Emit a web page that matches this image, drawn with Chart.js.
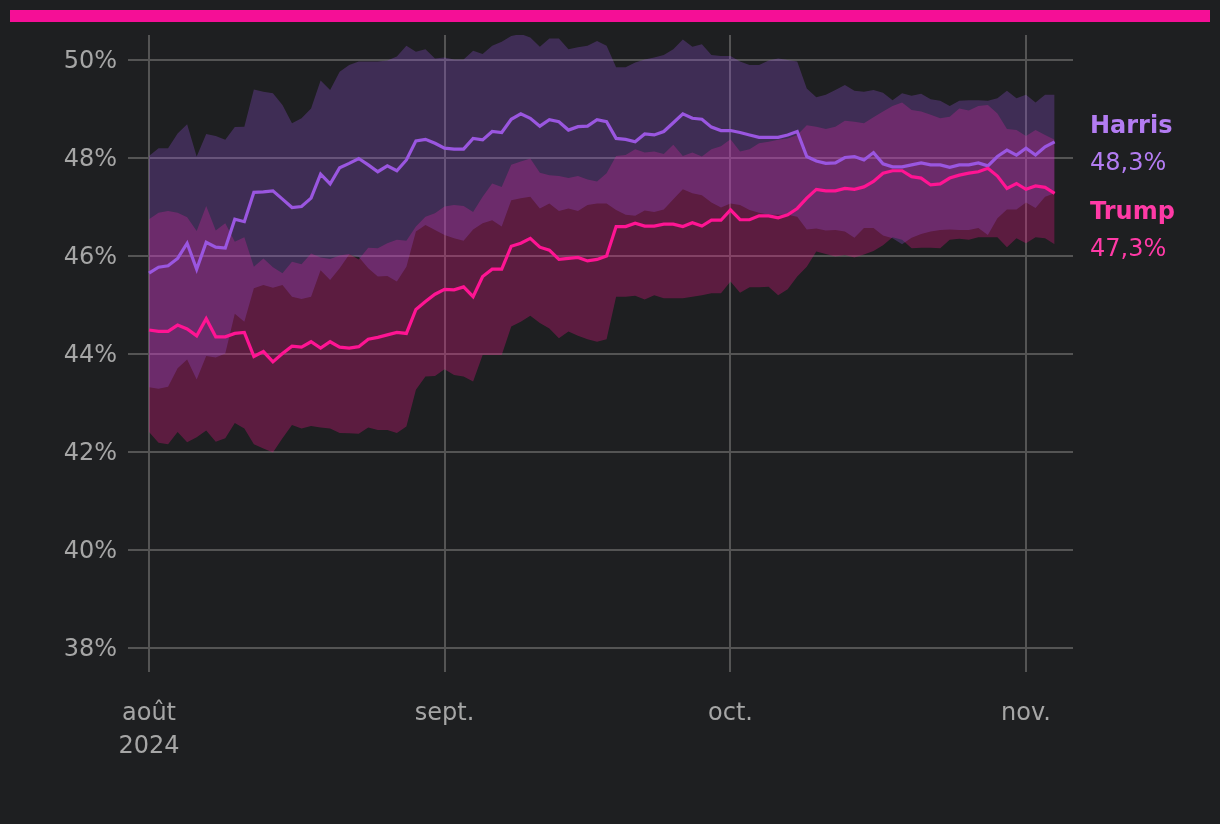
<!DOCTYPE html>
<html>
<head>
<meta charset="utf-8">
<title>Harris vs Trump</title>
<script src="https://cdn.jsdelivr.net/npm/chart.js@4"></script>
<style>
  html, body { margin: 0; padding: 0; background: #1e1f21; }
  #wrap { position: relative; width: 1220px; height: 824px; }
  #topbar { position: absolute; left: 10px; top: 10px; width: 1200px; height: 12px; background: #f50f96; }
  canvas { position: absolute; left: 0; top: 0; }
</style>
</head>
<body>
<div id="wrap">
  <canvas id="chart" width="1220" height="824"></canvas>
  <div id="topbar"></div>
</div>
<script>
// x values are days counted from 1 Aug 2024 (one point per day, 1 Aug - 4 Nov)
const xTickDays = [0, 31, 61, 92];
const xTickLabels = [['août', '2024'], 'sept.', 'oct.', 'nov.'];
const yTicks = [38, 40, 42, 44, 46, 48, 50];

const harris = [
  45.65, 45.77, 45.80, 45.95, 46.26, 45.73, 46.28, 46.18, 46.16, 46.75,
  46.70, 47.30, 47.31, 47.33, 47.16, 46.99, 47.01, 47.18, 47.67, 47.47,
  47.80, 47.89, 47.99, 47.86, 47.72, 47.84, 47.74, 47.96, 48.35, 48.38,
  48.30, 48.20, 48.18, 48.18, 48.40, 48.37, 48.54, 48.52, 48.79, 48.90,
  48.81, 48.65, 48.78, 48.74, 48.57, 48.64, 48.65, 48.78, 48.74, 48.40,
  48.38, 48.33, 48.49, 48.47, 48.54, 48.72, 48.90, 48.81, 48.79, 48.63,
  48.56, 48.56, 48.52, 48.47, 48.42, 48.42, 48.42, 48.47, 48.54, 48.03,
  47.94, 47.89, 47.90, 48.01, 48.03, 47.96, 48.11, 47.88, 47.82, 47.82,
  47.86, 47.90, 47.86, 47.86, 47.81, 47.86, 47.86, 47.90, 47.84, 48.03,
  48.16, 48.06, 48.20, 48.06, 48.23, 48.33
];
const harrisLow = [
  43.32, 43.29, 43.33, 43.71, 43.89, 43.48, 43.96, 43.93, 44.01, 44.82,
  44.66, 45.34, 45.41, 45.35, 45.41, 45.17, 45.12, 45.17, 45.71, 45.51,
  45.75, 46.03, 45.98, 45.75, 45.58, 45.59, 45.48, 45.78, 46.50, 46.63,
  46.53, 46.43, 46.36, 46.31, 46.54, 46.67, 46.73, 46.60, 47.14, 47.18,
  47.21, 46.97, 47.07, 46.92, 46.97, 46.92, 47.04, 47.07, 47.07, 46.94,
  46.84, 46.82, 46.93, 46.90, 46.95, 47.16, 47.36, 47.28, 47.24, 47.09,
  46.99, 47.07, 47.04, 46.94, 46.88, 46.84, 46.84, 46.84, 46.80, 46.54,
  46.56, 46.52, 46.53, 46.50, 46.37, 46.57, 46.57, 46.42, 46.36, 46.24,
  46.37, 46.45, 46.50, 46.53, 46.54, 46.53, 46.53, 46.57, 46.43, 46.77,
  46.95, 46.95, 47.09, 46.98, 47.21, 47.28
];
const harrisHigh = [
  48.04, 48.20, 48.20, 48.50, 48.69, 48.03, 48.49, 48.45, 48.37, 48.63,
  48.64, 49.40, 49.35, 49.32, 49.08, 48.71, 48.81, 49.01, 49.58, 49.39,
  49.76, 49.90, 49.97, 49.97, 49.97, 49.99, 50.07, 50.29, 50.17, 50.22,
  50.03, 50.05, 50.01, 50.01, 50.19, 50.12, 50.29, 50.37, 50.49, 50.53,
  50.46, 50.27, 50.44, 50.44, 50.22, 50.26, 50.29, 50.39, 50.29, 49.85,
  49.85, 49.95, 50.01, 50.05, 50.10, 50.22, 50.42, 50.27, 50.32, 50.10,
  50.08, 50.08, 49.97, 49.90, 49.90, 49.99, 50.03, 50.00, 49.97, 49.42,
  49.24, 49.29, 49.39, 49.49, 49.37, 49.35, 49.39, 49.33, 49.18, 49.32,
  49.27, 49.31, 49.20, 49.17, 49.06, 49.17, 49.18, 49.18, 49.17, 49.22,
  49.37, 49.22, 49.29, 49.13, 49.29, 49.29
];
const trump = [
  44.49, 44.46, 44.46, 44.59, 44.51, 44.37, 44.72, 44.35, 44.35, 44.42,
  44.44, 43.95, 44.05, 43.84, 44.01, 44.16, 44.14, 44.25, 44.12, 44.25,
  44.14, 44.12, 44.15, 44.30, 44.34, 44.39, 44.44, 44.42, 44.91, 45.07,
  45.22, 45.32, 45.31, 45.37, 45.17, 45.58, 45.73, 45.73, 46.20, 46.26,
  46.36, 46.18, 46.12, 45.93, 45.95, 45.97, 45.90, 45.93, 46.00, 46.60,
  46.60, 46.67, 46.61, 46.61, 46.65, 46.65, 46.60, 46.68, 46.61, 46.73,
  46.73, 46.94, 46.74, 46.74, 46.82, 46.82, 46.78, 46.84, 46.97, 47.18,
  47.36, 47.33, 47.33, 47.38, 47.36, 47.41, 47.52, 47.69, 47.74, 47.74,
  47.62, 47.59, 47.45, 47.47, 47.59, 47.65, 47.69, 47.72, 47.79, 47.63,
  47.38, 47.48, 47.36, 47.43, 47.40, 47.28
];
const trumpLow = [
  42.41, 42.19, 42.16, 42.41, 42.20, 42.30, 42.44, 42.21, 42.28, 42.59,
  42.48, 42.16, 42.07, 41.99, 42.28, 42.55, 42.48, 42.53, 42.50, 42.48,
  42.39, 42.38, 42.37, 42.50, 42.45, 42.45, 42.39, 42.52, 43.27, 43.54,
  43.55, 43.69, 43.57, 43.54, 43.44, 43.98, 43.98, 43.98, 44.56, 44.66,
  44.78, 44.63, 44.52, 44.32, 44.46, 44.37, 44.30, 44.25, 44.30, 45.17,
  45.17, 45.19, 45.11, 45.20, 45.14, 45.14, 45.14, 45.17, 45.20, 45.24,
  45.24, 45.48, 45.25, 45.36, 45.36, 45.37, 45.20, 45.32, 45.58, 45.78,
  46.09, 46.04, 45.99, 46.02, 45.97, 46.03, 46.10, 46.22, 46.38, 46.33,
  46.16, 46.17, 46.17, 46.16, 46.33, 46.35, 46.33, 46.38, 46.38, 46.38,
  46.18, 46.36, 46.26, 46.38, 46.36, 46.24
];
const trumpHigh = [
  46.75, 46.88, 46.92, 46.88, 46.79, 46.51, 47.02, 46.52, 46.67, 46.29,
  46.38, 45.78, 45.95, 45.77, 45.65, 45.88, 45.83, 46.05, 45.97, 45.94,
  46.01, 46.04, 45.93, 46.17, 46.16, 46.26, 46.33, 46.31, 46.60, 46.80,
  46.87, 47.01, 47.04, 47.02, 46.90, 47.21, 47.48, 47.41, 47.86, 47.93,
  47.99, 47.70, 47.65, 47.63, 47.59, 47.63, 47.56, 47.52, 47.69, 48.04,
  48.06, 48.18, 48.11, 48.13, 48.08, 48.27, 48.04, 48.11, 48.03, 48.18,
  48.24, 48.38, 48.13, 48.18, 48.30, 48.33, 48.37, 48.40, 48.47, 48.67,
  48.64, 48.59, 48.64, 48.76, 48.74, 48.71, 48.83, 48.95, 49.06, 49.13,
  48.98, 48.95, 48.88, 48.81, 48.84, 49.01, 48.97, 49.06, 49.08, 48.91,
  48.59, 48.57, 48.45, 48.57, 48.47, 48.37
];

const HARRIS = '#9a56e0';
const TRUMP = '#ff1493';
const HARRIS_TEXT = '#b37cf2';
const TRUMP_TEXT = '#ff3aa6';
const GRID = '#545454';
const TICK_TEXT = '#a6a6a6';

function points(values) {
  return values.map((v, i) => ({ x: i, y: v }));
}

function band(values, color, order) {
  return {
    data: points(values),
    borderWidth: 0,
    borderColor: 'rgba(0,0,0,0)',
    backgroundColor: color,
    pointRadius: 0,
    fill: color ? '-1' : false,
    order
  };
}

function line(values, color, order) {
  return {
    data: points(values),
    borderColor: color,
    borderWidth: 3.2,
    pointRadius: 0,
    fill: false,
    order
  };
}

function fmt(v) {
  return v.toFixed(1).replace('.', ',') + '%';
}

// name + last value to the right of the plot
const endLabels = {
  id: 'endLabels',
  afterDraw(chart) {
    const { ctx } = chart;
    const y = chart.scales.y;
    const base = y.getPixelForValue(harris[harris.length - 1]);
    const rows = [
      ['Harris', 'bold', HARRIS_TEXT, base - 15],
      [fmt(harris[harris.length - 1]), 'normal', HARRIS_TEXT, base + 22],
      ['Trump', 'bold', TRUMP_TEXT, base + 71],
      [fmt(trump[trump.length - 1]), 'normal', TRUMP_TEXT, base + 108]
    ];
    ctx.save();
    ctx.textAlign = 'left';
    ctx.textBaseline = 'middle';
    for (const [text, weight, color, py] of rows) {
      ctx.font = weight + ' 24px "DejaVu Sans"';
      ctx.fillStyle = color;
      ctx.fillText(text, 1090, py);
    }
    ctx.restore();
  }
};

const tickFont = { family: 'DejaVu Sans', size: 24, lineHeight: 1.35 };

new Chart(document.getElementById('chart'), {
  type: 'line',
  data: {
    datasets: [
      band(trumpLow, null, 5),
      band(trumpHigh, 'rgba(255,20,147,0.28)', 4),
      band(harrisLow, null, 3),
      band(harrisHigh, 'rgba(154,86,224,0.27)', 2),
      line(harris, HARRIS, 1),
      line(trump, TRUMP, 0)
    ]
  },
  options: {
    responsive: false,
    animation: false,
    devicePixelRatio: 1,
    layout: { padding: { top: 35, right: 147, bottom: 64, left: 0 } },
    plugins: { legend: { display: false }, tooltip: { enabled: false } },
    elements: { line: { tension: 0 } },
    scales: {
      x: {
        type: 'linear',
        min: -1.05,
        max: 96.93,
        afterFit: (scale) => { scale.height = 100; },
        afterBuildTicks: (scale) => { scale.ticks = xTickDays.map(v => ({ value: v })); },
        border: { display: false },
        grid: { color: GRID, lineWidth: 2, tickLength: 12 },
        ticks: {
          color: TICK_TEXT,
          font: tickFont,
          padding: 26,
          maxRotation: 0,
          autoSkip: false,
          callback: (v) => xTickLabels[xTickDays.indexOf(v)]
        }
      },
      y: {
        min: 37.755,
        max: 50.51,
        afterFit: (scale) => { scale.width = 139; },
        afterBuildTicks: (scale) => { scale.ticks = yTicks.map(v => ({ value: v })); },
        border: { display: false },
        grid: { color: GRID, lineWidth: 2, tickLength: 11 },
        ticks: {
          color: TICK_TEXT,
          font: tickFont,
          padding: 11,
          labelOffset: 2,
          callback: (v) => v + '%'
        }
      }
    }
  },
  plugins: [endLabels]
});
</script>
</body>
</html>
